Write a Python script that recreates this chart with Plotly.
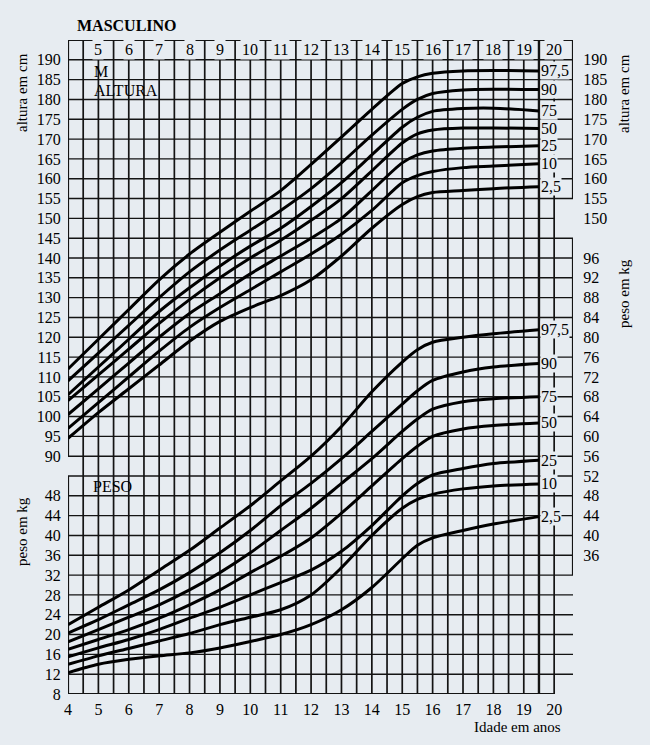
import plotly.graph_objects as go

# ---------------- data ----------------
ages = [4, 5, 6, 7, 8, 9, 10, 11, 12, 13, 14, 15, 15.5, 16, 17, 18, 19.5]
percentile_labels = ["97,5", "90", "75", "50", "25", "10", "2,5"]

altura_975 = [112, 119.5, 127, 134.5, 141, 146.5, 151.8, 157, 163.6, 170.5, 177.5, 184, 185.7, 186.6, 187.2, 187.3, 187.2]
altura_90 = [109, 116, 123, 130, 136.5, 142, 147, 152, 157.5, 164, 171, 177.5, 180, 181.5, 182.4, 182.6, 182.5]
altura_75 = [105.5, 112.5, 119.5, 126.5, 132.5, 138, 143, 147.5, 153, 159, 166, 173, 175.5, 177, 177.7, 177.8, 177.1]
altura_50 = [104, 110.5, 117, 123.5, 129.5, 135, 140, 144.5, 149.5, 155, 162, 169, 171.3, 172.3, 172.8, 172.8, 172.7]
altura_25 = [100.5, 107, 113.5, 120, 126, 131, 136, 140.5, 145, 150, 157, 164, 166, 167, 167.7, 168, 168.3]
altura_10 = [97, 103.5, 110, 116.5, 122.5, 127.5, 132, 136.5, 141, 146, 152, 159, 160.8, 161.8, 162.8, 163.2, 163.8]
altura_2_5 = [94.5, 101, 107, 113, 119, 124, 127.5, 130.5, 134.5, 140.5, 147.5, 153.5, 155.5, 156.5, 157, 157.5, 158]

peso_975 = [22, 25.5, 29, 33, 37, 41.5, 46, 51, 56, 62, 69, 75, 77.5, 79, 80, 80.7, 81.5]
peso_90 = [20.3, 23, 26, 29, 32.5, 36.5, 41, 46, 50.5, 55.5, 61, 66.5, 69.2, 71.3, 73, 74, 74.7]
peso_75 = [18.5, 21, 23.5, 26, 29, 32.5, 36.5, 41, 45.5, 50.5, 55.5, 61, 63.5, 65.5, 67, 67.6, 68]
peso_50 = [17, 19, 21, 23.3, 26, 29, 32.5, 35.8, 39.5, 44.5, 50, 55.5, 58, 60, 61.5, 62.2, 62.7]
peso_25 = [15.5, 17.3, 19, 21, 23.3, 25.5, 28, 30.5, 33, 36.8, 42, 48, 50.5, 52.2, 53.5, 54.5, 55.2]
peso_10 = [14, 15.7, 17.2, 18.7, 20.2, 22, 23.5, 25, 28, 33.5, 40, 45.5, 47.3, 48.3, 49.4, 50, 50.4]
peso_2_5 = [12.3, 14, 15, 15.7, 16.3, 17.3, 18.6, 20, 22, 25, 29.5, 35.3, 38, 39.5, 41, 42.3, 43.8]

altura_series = [altura_975, altura_90, altura_75, altura_50, altura_25, altura_10, altura_2_5]
peso_series = [peso_975, peso_90, peso_75, peso_50, peso_25, peso_10, peso_2_5]

bottom_ticks = list(range(4, 21))
top_ticks = list(range(5, 21))
left_height_ticks = list(range(90, 191, 5))
left_weight_ticks = list(range(8, 49, 4))
right_height_ticks = list(range(150, 191, 5))
right_weight_ticks = list(range(36, 97, 4))

# ---------------- scales ----------------
W_MIN, W_MAX = 8, 140          # weight axis (kg)
H_MIN, H_MAX = 30, 195         # height axis aligned: 90 cm <-> 56 kg, 5 cm <-> 4 kg
X_MIN, X_MAX = 4, 20.62

W_PX, H_PX = 650, 745
M_L, M_R, M_T, M_B = 68, 77, 40, 51

BG = "#e7ecf1"
INK = "#141414"
FONT = "Liberation Serif, Times New Roman, serif"
FS = 16


def px_x(p):
    return (p - M_L) / (W_PX - M_L - M_R)


def px_y(p):
    return (H_PX - M_B - p) / (H_PX - M_T - M_B)


def h2w(h):
    return 56 + (h - 90) * 0.8


fig = go.Figure()

for lab, ser in zip(percentile_labels, altura_series):
    fig.add_trace(go.Scatter(x=ages, y=ser, yaxis="y2", mode="lines",
                             line=dict(color="black", width=3, shape="spline", smoothing=0.8),
                             hoverinfo="skip", showlegend=False, name="altura " + lab))
for lab, ser in zip(percentile_labels, peso_series):
    fig.add_trace(go.Scatter(x=ages, y=ser, yaxis="y", mode="lines",
                             line=dict(color="black", width=3, shape="spline", smoothing=0.8),
                             hoverinfo="skip", showlegend=False, name="peso " + lab))
# placeholder traces so the right-hand axes are drawn
fig.add_trace(go.Scatter(x=[None], y=[None], yaxis="y3", showlegend=False, hoverinfo="skip"))
fig.add_trace(go.Scatter(x=[None], y=[None], yaxis="y4", showlegend=False, hoverinfo="skip"))

# ---------------- grid ----------------
shapes = []
grid_w = 1.4
row_values = list(range(12, 140, 4))
for w in row_values:
    x1 = 20 if w == h2w(150) else X_MAX
    shapes.append(dict(type="line", xref="x", yref="y", x0=4, x1=x1, y0=w, y1=w,
                       line=dict(color=INK, width=grid_w), layer="below"))
shapes.append(dict(type="line", xref="x", yref="y", x0=4, x1=20, y0=8, y1=8,
                   line=dict(color=INK, width=1.8), layer="below"))
shapes.append(dict(type="line", xref="x", yref="y", x0=4, x1=X_MAX, y0=140, y1=140,
                   line=dict(color=INK, width=2.2), layer="below"))
half_years = [k + 0.5 for k in range(4, 20)]
for xv in half_years:
    shapes.append(dict(type="line", xref="x", yref="y", x0=xv, x1=xv, y0=8, y1=140,
                       line=dict(color=INK, width=2.4 if xv == 19.5 else 1.7), layer="below"))
for xv in top_ticks:
    shapes.append(dict(type="line", xref="x", yref="y", x0=xv, x1=xv, y0=8, y1=h2w(190),
                       line=dict(color=INK, width=1.7), layer="below"))
for (y0, y1) in [(8, 52), (56, 140)]:
    shapes.append(dict(type="line", xref="x", yref="y", x0=4, x1=4, y0=y0, y1=y1,
                       line=dict(color=INK, width=2.2), layer="below"))
for (y0, y1) in [(32, h2w(145)), (h2w(155), 140)]:
    shapes.append(dict(type="line", xref="x", yref="y", x0=X_MAX, x1=X_MAX, y0=y0, y1=y1,
                       line=dict(color=INK, width=2.2), layer="below"))

# ---------------- annotations ----------------
ann = []
txt = dict(family=FONT, size=FS, color="black")
for k in top_ticks:
    ann.append(dict(x=k, y=192.5, xref="x", yref="y2", text=str(k), showarrow=False,
                    font=txt, bgcolor=BG, height=17, xanchor="center", yanchor="middle"))
for lab, ser in zip(percentile_labels, altura_series):
    ann.append(dict(x=19.5, y=ser[-1], xref="x", yref="y2", text=lab, showarrow=False,
                    font=txt, bgcolor=BG, xanchor="left", yanchor="middle", xshift=1, borderpad=0))
for lab, ser in zip(percentile_labels, peso_series):
    ann.append(dict(x=19.5, y=ser[-1], xref="x", yref="y", text=lab, showarrow=False,
                    font=txt, bgcolor=BG, xanchor="left", yanchor="middle", xshift=1, borderpad=0))


def label(text, x, y, xanchor="left", angle=0, size=FS, bold=False):
    ann.append(dict(x=px_x(x), y=px_y(y), xref="paper", yref="paper",
                    text=("<b>%s</b>" % text) if bold else text,
                    showarrow=False, textangle=angle, xanchor=xanchor, yanchor="middle",
                    font=dict(family=FONT, size=size, color="black")))


label("MASCULINO", 75, 25, bold=True, size=16)
label("M", 92, 71)
label("ALTURA", 92, 91)
label("PESO", 91, 486)
label("altura em cm", 22, 93, xanchor="center", angle=-90, size=15)
label("peso em kg", 22, 532, xanchor="center", angle=-90, size=15)
label("altura em cm", 624, 94, xanchor="center", angle=-90, size=15)
label("peso em kg", 624, 294, xanchor="center", angle=-90, size=15)
label("Idade em anos", 563, 727, xanchor="right", size=15)

tickfont = dict(family=FONT, size=FS, color="black")
common_y = dict(showgrid=False, zeroline=False, showline=False, ticks="outside",
                tickcolor="rgba(0,0,0,0)", tickfont=tickfont, fixedrange=True)

fig.update_layout(
    width=W_PX, height=H_PX,
    margin=dict(l=M_L, r=M_R, t=M_T, b=M_B),
    paper_bgcolor=BG, plot_bgcolor=BG,
    showlegend=False,
    shapes=shapes,
    annotations=ann,
    xaxis=dict(range=[X_MIN, X_MAX], tickvals=bottom_ticks, ticktext=[str(t) for t in bottom_ticks],
               showgrid=False, zeroline=False, showline=False, ticks="outside", ticklen=1,
               tickcolor="rgba(0,0,0,0)", tickfont=tickfont),
    yaxis=dict(range=[W_MIN, W_MAX], tickvals=left_weight_ticks, side="left", ticklen=3, **common_y),
    yaxis2=dict(range=[H_MIN, H_MAX], tickvals=left_height_ticks, side="left", overlaying="y",
                ticklen=3, **common_y),
    yaxis3=dict(range=[H_MIN, H_MAX], tickvals=right_height_ticks, side="right", overlaying="y",
                ticklen=6, **common_y),
    yaxis4=dict(range=[W_MIN, W_MAX], tickvals=right_weight_ticks, side="right", overlaying="y",
                ticklen=6, **common_y),
)

fig.write_html("out.html")
